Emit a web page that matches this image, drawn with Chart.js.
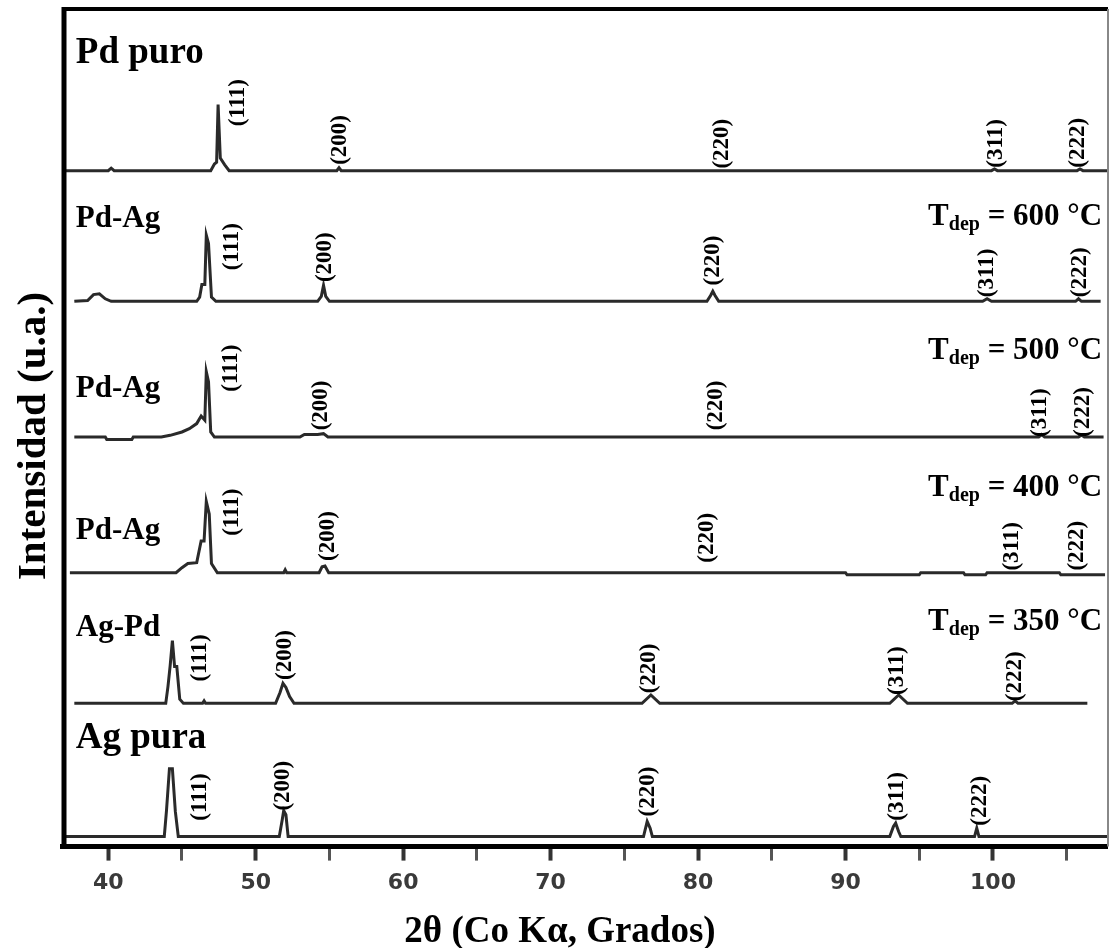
<!DOCTYPE html>
<html><head><meta charset="utf-8">
<script src="https://cdn.jsdelivr.net/npm/chart.js@4.4.1/dist/chart.umd.min.js"></script>
<style>html,body{margin:0;padding:0;background:#fff}canvas{display:block}</style>
</head><body>
<canvas id="c" width="1110" height="948"></canvas>
<script>
// ---- axis ----
const xMin = 37, xMax = 107.8;
const xTickValues = [40,45,50,55,60,65,70,75,80,85,90,95,100,105];
const xMajorLabels = [40,50,60,70,80,90,100];
const xTitle = '2θ (Co Kα, Grados)';
const yTitle = 'Intensidad (u.a.)';

// ---- series (2θ, relative intensity) ----
const pdPuroX = [37,40.0,40.2,40.4,46.95,47.2,47.35,47.45,47.6,47.9,48.2,55.5,55.65,55.8,99.9,100.1,100.3,105.7,105.9,106.1,107.8];
const pdPuroI = [0,0,0.3,0,0,0.8,1.0,7.9,1.5,0.7,0,0,0.35,0,0,0.2,0,0,0.2,0,0];

const pdAg600X = [37.7,38.6,39.0,39.4,39.8,40.2,46.0,46.2,46.35,46.55,46.65,46.8,47.0,47.3,54.2,54.45,54.6,54.75,55.0,80.6,80.85,81.0,81.15,81.4,99.3,99.6,99.9,105.6,105.8,106.0,107.3];
const pdAg600I = [0,0.1,0.8,0.9,0.3,0,0,0.5,2.0,2.0,7.9,6.9,0.5,0,0,0.6,1.9,0.6,0,0,0.7,1.2,0.7,0,0,0.3,0,0,0.3,0,0];

const pdAg500X = [37.7,39.8,39.9,41.6,41.7,43.6,44.2,45.0,45.5,46.0,46.3,46.55,46.65,46.8,46.95,47.2,53.0,53.3,54.2,54.6,54.9,103.1,103.3,103.5,105.8,106.0,106.2,107.5];
const pdAg500I = [0,0,-0.3,-0.3,0,0,0.2,0.6,1.0,1.6,2.5,2.0,7.8,6.6,0.6,0,0,0.3,0.3,0.4,0,0,0.3,0,0,0.25,0,0];

const pdAg400X = [37.4,44.6,45.0,45.4,46.0,46.3,46.5,46.65,46.85,47.0,47.4,51.9,52.0,52.1,54.3,54.5,54.7,54.95,90.0,90.1,95.0,95.1,98.0,98.1,99.5,99.6,104.5,104.6,107.6];
const pdAg400I = [0,0,0.6,1.1,1.2,3.8,3.8,8.5,7.0,1.1,0,0,0.35,0,0,0.7,0.8,0,0,-0.25,-0.25,0,0,-0.25,-0.25,0,0,-0.25,-0.25];

const agPdX = [37.7,43.9,44.05,44.2,44.35,44.5,44.65,44.85,45.1,46.4,46.5,46.6,51.35,51.65,51.85,52.05,52.3,52.6,76.2,76.8,77.4,93.0,93.6,94.2,101.3,101.5,101.7,106.4];
const agPdI = [0,0,2.0,4.5,7.5,4.4,4.4,0.5,0,0,0.3,0,0,1.3,2.4,1.9,0.8,0,0,1.0,0,0,1.0,0,0,0.3,0,0];

const agPuraX = [37,43.8,43.95,44.15,44.35,44.55,44.75,51.6,51.8,51.9,52.05,52.2,76.3,76.55,76.75,76.9,93.0,93.25,93.4,93.6,93.75,98.75,98.9,99.05,107.8];
const agPuraI = [0,0,3.1,8.1,8.1,3.0,0,0,2.0,3.1,2.6,0,0,1.8,1.0,0,0,1.2,1.6,0.6,0,0,1.0,0,0];

// vertical stacking offsets of the patterns (u.a.)
const offsets = [80.7, 65.1, 48.9, 32.7, 17.1, 1.2];
const sampleNames = ['Pd puro','Pd-Ag','Pd-Ag','Pd-Ag','Ag-Pd','Ag pura'];
const sampleTemps = ['', '600', '500', '400', '350', ''];
const hklLabels = ['(111)','(200)','(220)','(311)','(222)'];

// reflection label positions (2θ, height above pattern baseline)
const pdPuroLabX = [48.8,55.7,81.6,100.2,105.8];   const pdPuroLabY = [5.3,0.7,0.25,0.35,0.35];
const pdAg600LabX = [48.4,54.7,81.0,99.6,105.9];   const pdAg600LabY = [3.7,2.3,1.9,0.5,0.5];
const pdAg500LabX = [48.3,54.4,81.2,103.2,106.1];  const pdAg500LabY = [5.4,0.8,0.8,0.0,0.0];
const pdAg400LabX = [48.4,54.9,80.6,101.3,105.7];  const pdAg400LabY = [4.4,1.4,1.2,0.25,0.25];
const agPdLabX = [46.2,52.0,76.7,93.5,101.5];      const agPdLabY = [2.6,2.8,1.2,1.0,0.25];
const agPuraLabX = [46.2,51.85,76.6,93.5,99.1];    const agPuraLabY = [1.9,3.1,2.4,1.9,1.3];

const nameY = [12.8, 8.9, 4.8, 4.0, 8.0, 10.6];
const tempY = [0, 9.1, 9.35, 9.2, 8.75, 0];

const series = [
  {x: pdPuroX, i: pdPuroI, lx: pdPuroLabX, ly: pdPuroLabY},
  {x: pdAg600X, i: pdAg600I, lx: pdAg600LabX, ly: pdAg600LabY},
  {x: pdAg500X, i: pdAg500I, lx: pdAg500LabX, ly: pdAg500LabY},
  {x: pdAg400X, i: pdAg400I, lx: pdAg400LabX, ly: pdAg400LabY},
  {x: agPdX, i: agPdI, lx: agPdLabX, ly: agPdLabY},
  {x: agPuraX, i: agPuraI, lx: agPuraLabX, ly: agPuraLabY}
];

const SERIF = '"Liberation Serif", "Times New Roman", serif';

const decor = {
  id: 'decor',
  afterDatasetsDraw(chart) {
    const {ctx, chartArea: a, scales: {x, y}} = chart;
    ctx.save();
    // frame
    ctx.strokeStyle = '#000';
    ctx.lineWidth = 4;
    ctx.beginPath(); ctx.moveTo(a.left - 2, a.top); ctx.lineTo(a.right, a.top); ctx.stroke();
    ctx.lineWidth = 5;
    ctx.beginPath(); ctx.moveTo(a.left, a.top - 2); ctx.lineTo(a.left, a.bottom + 2); ctx.stroke();
    ctx.beginPath(); ctx.moveTo(a.left - 4, a.bottom); ctx.lineTo(a.right, a.bottom); ctx.stroke();
    ctx.strokeStyle = '#888';
    ctx.lineWidth = 2;
    ctx.beginPath(); ctx.moveTo(a.right, a.top); ctx.lineTo(a.right, a.bottom); ctx.stroke();

    ctx.fillStyle = '#000';
    series.forEach((s, k) => {
      // hkl labels
      ctx.font = 'bold 23px ' + SERIF;
      s.lx.forEach((lx, j) => {
        const px = x.getPixelForValue(lx), py = y.getPixelForValue(offsets[k] + s.ly[j]);
        ctx.save(); ctx.translate(px, py); ctx.rotate(-Math.PI / 2);
        ctx.textAlign = 'left'; ctx.textBaseline = 'middle';
        ctx.fillText(hklLabels[j], 0, 0);
        ctx.restore();
      });
      // sample names
      const big = (k === 0 || k === 5);
      ctx.font = 'bold ' + (big ? 37 : 31) + 'px ' + SERIF;
      ctx.textAlign = 'left'; ctx.textBaseline = 'alphabetic';
      ctx.fillText(sampleNames[k], x.getPixelForValue(37.8), y.getPixelForValue(offsets[k] + nameY[k]));
      // deposition temperature
      if (sampleTemps[k]) {
        const right = x.getPixelForValue(107.4);
        const by = y.getPixelForValue(offsets[k] + tempY[k]);
        const mainF = 'bold 31px ' + SERIF, subF = 'bold 20px ' + SERIF;
        const rest = ' = ' + sampleTemps[k] + ' °C';
        ctx.font = mainF; const wT = ctx.measureText('T').width; const wR = ctx.measureText(rest).width;
        ctx.font = subF; const wS = ctx.measureText('dep').width;
        let sx = right - (wT + wS + wR);
        ctx.font = mainF; ctx.fillText('T', sx, by); sx += wT;
        ctx.font = subF; ctx.fillText('dep', sx, by + 5); sx += wS;
        ctx.font = mainF; ctx.fillText(rest, sx, by);
      }
    });
    // axis titles
    ctx.font = 'bold 37px ' + SERIF;
    ctx.textAlign = 'center'; ctx.textBaseline = 'alphabetic';
    ctx.fillText(xTitle, 560, 942);
    ctx.font = 'bold 41px ' + SERIF;
    ctx.save(); ctx.translate(45, 436); ctx.rotate(-Math.PI / 2);
    ctx.fillText(yTitle, 0, 0);
    ctx.restore();
    ctx.restore();
  }
};

const datasets = series.map((s, k) => ({
  data: s.x.map((v, j) => ({x: v, y: s.i[j] + offsets[k]})),
  borderColor: '#2a2a2a',
  borderWidth: 3,
  pointRadius: 0,
  tension: 0,
  fill: false
}));

new Chart(document.getElementById('c'), {
  type: 'line',
  data: {datasets},
  options: {
    responsive: false,
    devicePixelRatio: 1,
    animation: false,
    parsing: true,
    layout: {padding: {left: 64, right: 2, top: 9, bottom: 43}},
    plugins: {legend: {display: false}, tooltip: {enabled: false}},
    scales: {
      x: {
        type: 'linear', min: xMin, max: xMax,
        afterBuildTicks: (scale) => { scale.ticks = xTickValues.map(v => ({value: v})); },
        grid: {
          drawOnChartArea: false, drawTicks: true, tickLength: 14,
          tickColor: (c) => xMajorLabels.includes(c.tick && c.tick.value) ? '#333' : '#555',
          tickWidth: (c) => xMajorLabels.includes(c.tick && c.tick.value) ? 4 : 3
        },
        border: {display: false},
        ticks: {
          padding: 9, maxRotation: 0, autoSkip: false,
          color: '#3a3a3a',
          font: {family: '"DejaVu Sans", sans-serif', size: 22, weight: 'bold'},
          callback: (v) => xMajorLabels.includes(v) ? String(v) : ''
        },
        title: {display: false}
      },
      y: {type: 'linear', min: 0, max: 100, display: false}
    }
  },
  plugins: [decor]
});
</script>
</body></html>
